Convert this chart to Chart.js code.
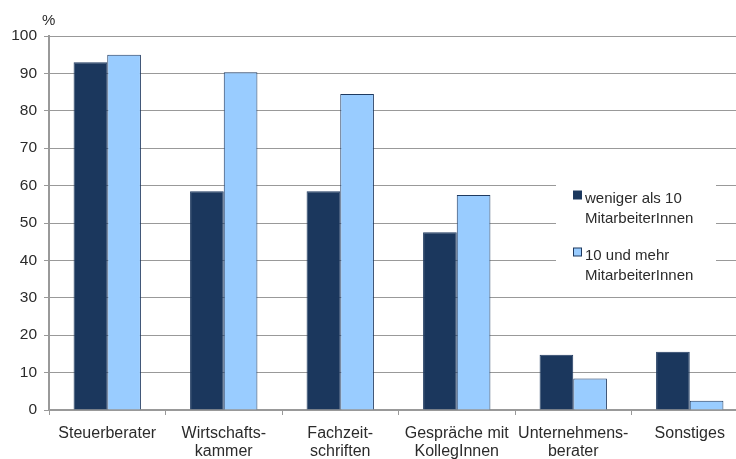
<!DOCTYPE html>
<html>
<head>
<meta charset="utf-8">
<script src="https://cdn.jsdelivr.net/npm/chart.js@4"></script>
<style>
html, body { margin: 0; padding: 0; background: #fff; overflow: hidden; }
#wrap { width: 748px; height: 459px; }
</style>
</head>
<body>
<div id="wrap"><canvas id="chart" width="748" height="459"></canvas></div>
<script>
// categories and values
var categories = [
    ['Steuerberater'],
    ['Wirtschafts-', 'kammer'],
    ['Fachzeit-', 'schriften'],
    ['Gespräche mit', 'KollegInnen'],
    ['Unternehmens-', 'berater'],
    ['Sonstiges']
];
var seriesNames = [['weniger als 10', 'MitarbeiterInnen'], ['10 und mehr', 'MitarbeiterInnen']];
var small = [93, 58.5, 58.5, 47.5, 14.8, 15.6];
var large = [95, 90.3, 84.5, 57.5, 8.4, 2.5];
var yTicks = [0, 10, 20, 30, 40, 50, 60, 70, 80, 90, 100];

var darkBlue = '#1b375d';
var lightBlue = '#99ccff';
var edge = '#1f3a60';
var textCol = '#2b2b2b';
var font = 'Liberation Sans, Arial, sans-serif';

// legend box + "%" label drawn by hand, the legend has two-line entries
var extras = {
    id: 'extras',
    afterDatasetsDraw: function(chart) {
        var c = chart.ctx;
        c.save();
        c.fillStyle = '#fff';
        c.fillRect(556, 172, 160, 118);
        c.font = '15px ' + font;
        c.textBaseline = 'alphabetic';
        c.textAlign = 'left';
        var cols = [darkBlue, lightBlue];
        var ys = [203, 260];
        for (var i = 0; i < 2; i++) {
            c.fillStyle = cols[i];
            c.strokeStyle = edge;
            c.lineWidth = 1;
            c.fillRect(573.5, ys[i] - 12, 8, 8);
            c.strokeRect(573.5, ys[i] - 12, 8, 8);
            c.fillStyle = textCol;
            c.fillText(seriesNames[i][0], 585, ys[i]);
            c.fillText(seriesNames[i][1], 585, ys[i] + 19.5);
        }
        c.fillText('%', 42, 25);
        c.restore();
    }
};

var chart = new Chart(document.getElementById('chart'), {
    type: 'bar',
    data: {
        labels: categories,
        datasets: [
            { label: seriesNames[0].join(' '), data: small, backgroundColor: darkBlue, borderColor: edge, borderWidth: 1 },
            { label: seriesNames[1].join(' '), data: large, backgroundColor: lightBlue, borderColor: edge, borderWidth: 1 }
        ]
    },
    options: {
        responsive: false,
        animation: false,
        layout: { padding: { top: 36, right: 0, left: 0, bottom: 0 } },
        datasets: { bar: { barPercentage: 1, categoryPercentage: 0.578 } },
        plugins: { legend: { display: false }, tooltip: { enabled: false } },
        scales: {
            x: {
                offset: true,
                grid: { offset: true, drawOnChartArea: false, color: '#999', tickLength: 5 },
                border: { color: '#999', width: 2 },
                ticks: { color: textCol, font: { family: font, size: 16, lineHeight: 1.17 }, padding: 9, maxRotation: 0, autoSkip: false },
                afterFit: function(s) { s.height = 49; }
            },
            y: {
                min: 0, max: 100,
                afterBuildTicks: function(s) { s.ticks = yTicks.map(function(v) { return { value: v }; }); },
                grid: { color: '#999', tickLength: 5 },
                border: { color: '#999', width: 2 },
                ticks: { color: textCol, font: { family: font, size: 15.5 }, padding: 7 },
                afterFit: function(s) { s.width = 49; }
            }
        }
    },
    plugins: [extras]
});
</script>
</body>
</html>
